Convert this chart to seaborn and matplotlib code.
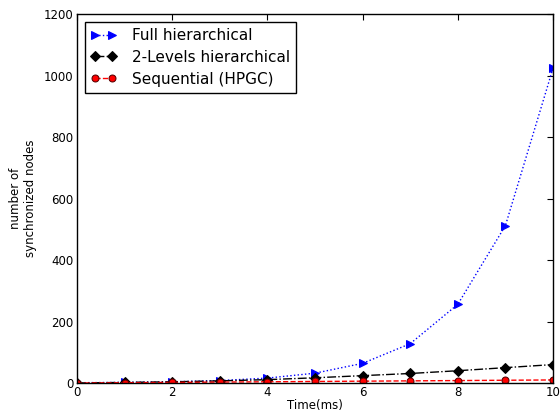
import seaborn as sns
import matplotlib.pyplot as plt
import pandas as pd

# data
time_ms = [0, 1, 2, 3, 4, 5, 6, 7, 8, 9, 10]
full_hier = [1, 2, 4, 8, 16, 32, 64, 128, 256, 512, 1024]
two_levels = [0, 2, 4, 7, 11, 17, 24, 31, 40, 50, 60]
sequential = [0, 1, 2, 3, 4, 5, 6, 7, 8, 9, 10]

sns.set_style("white")
plt.rcParams['font.family'] = ['DejaVu Sans']
plt.rcParams['text.color'] = 'black'
plt.rcParams['axes.labelcolor'] = 'black'
plt.rcParams['xtick.color'] = 'black'
plt.rcParams['ytick.color'] = 'black'

fig = plt.figure(figsize=(5.6, 4.13), dpi=100)
ax = fig.add_axes([0.1375, 0.0726, 0.85, 0.893])

sns.lineplot(x=time_ms, y=full_hier, ax=ax, color='blue', linestyle=':', marker='>',
             markersize=6, markeredgecolor='blue', linewidth=1, label='Full hierarchical')
sns.lineplot(x=time_ms, y=two_levels, ax=ax, color='black', linestyle='-.', marker='D',
             markersize=5, markeredgecolor='black', linewidth=1, label='2-Levels hierarchical')
sns.lineplot(x=time_ms, y=sequential, ax=ax, color='red', linestyle='--', marker='o',
             markersize=5, markeredgecolor='#550000', linewidth=1, label='Sequential (HPGC)')

ax.set_xlim(0, 10)
ax.set_ylim(0, 1200)
ax.set_xticks([0, 2, 4, 6, 8, 10])
ax.set_yticks([0, 200, 400, 600, 800, 1000, 1200])
ax.set_xlabel('Time(ms)', fontsize=8.5, labelpad=0)
ax.set_ylabel('number of\nsynchronized nodes', fontsize=8.5, labelpad=5)
ax.tick_params(direction='in', top=True, right=True, labelsize=8.5, length=4, pad=2.5)
for s in ax.spines.values():
    s.set_color('black')
    s.set_linewidth(1)

leg = ax.legend(loc='upper left', fontsize=11, numpoints=2, frameon=True, fancybox=False,
                handlelength=1.7, handletextpad=1.0, labelspacing=0.45,
                borderaxespad=0.5, borderpad=0.4)
leg.get_frame().set_edgecolor('black')
leg.get_frame().set_alpha(1)

fig.savefig('out.png', dpi=100)
